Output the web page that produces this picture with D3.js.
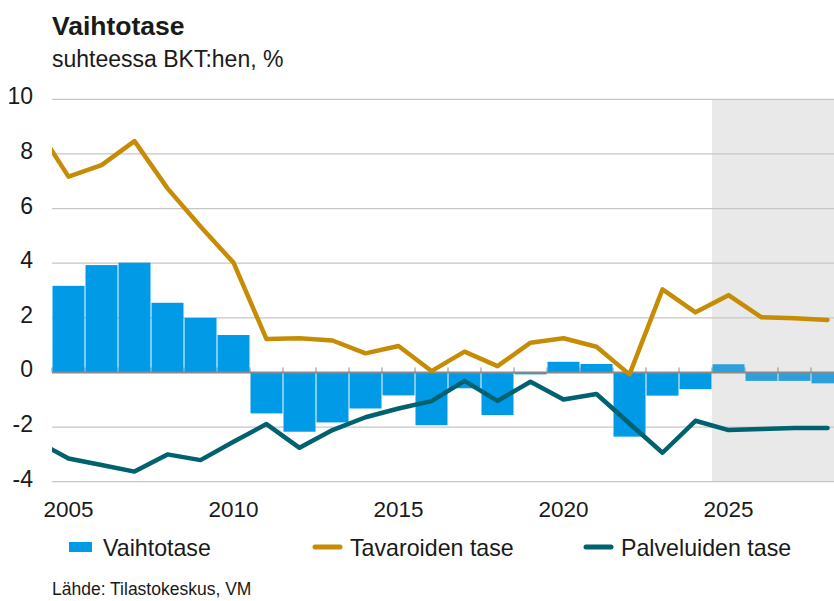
<!DOCTYPE html>
<html>
<head>
<meta charset="utf-8">
<script src="https://cdn.jsdelivr.net/npm/d3@7"></script>
<style>
  body { margin: 0; background: #fff; }
  svg text { font-family: "Liberation Sans", Arial, sans-serif; fill: #1a1a1a; }
</style>
</head>
<body>
<div id="chart"></div>
<script>
// bars: vaihtotase, 2005-2028 (2025 onwards forecast)
const barYears = d3.range(2005, 2029)
const vaihtotase = [3.17, 3.93, 4.02, 2.55, 2.0, 1.37, -1.5, -2.17, -1.83, -1.32, -0.84, -1.93,
  -0.58, -1.56, -0.07, 0.39, 0.31, -2.35, -0.85, -0.61, 0.3, -0.31, -0.31, -0.4]

// lines start one year earlier, clipped at the left edge
const lineYears = d3.range(2004, 2029)
const tavaroidenTase = [9.05, 7.17, 7.59, 8.47, 6.74, 5.34, 4.02, 1.22, 1.25, 1.17, 0.7, 0.97, 0.05,
  0.76, 0.23, 1.09, 1.25, 0.94, -0.07, 3.04, 2.2, 2.83, 2.02, 1.98, 1.92]
const palveluidenTase = [-2.49, -3.15, -3.39, -3.63, -3.0, -3.21, -2.54, -1.89, -2.76, -2.11, -1.64,
  -1.32, -1.05, -0.31, -1.04, -0.34, -0.99, -0.79, -1.87, -2.94, -1.77, -2.11, -2.07, -2.03, -2.03]

const yTicks = [10, 8, 6, 4, 2, 0, -2, -4]
const xLabels = [2005, 2010, 2015, 2020, 2025]
const forecastStart = 2025

const width = 834
const height = 601
const plot = { left: 52, right: 834, top: 99, bottom: 482 }

const svg = d3.select("#chart")
  .append("svg")
  .attr("width", width)
  .attr("height", height)

// one year = one band, centred on the year
const x = d3.scaleLinear().domain([2004.5, 2028.5]).range([plot.left, 844])
const y = d3.scaleLinear().domain([-4, 10]).range([481.7, 99.3])

svg.append("defs").append("clipPath")
  .attr("id", "plotclip")
  .append("rect")
  .attr("x", plot.left)
  .attr("y", 0)
  .attr("width", plot.right - plot.left)
  .attr("height", height)

// forecast shading
svg.append("rect")
  .attr("x", x(forecastStart - 0.5))
  .attr("y", y(10))
  .attr("width", plot.right - x(forecastStart - 0.5))
  .attr("height", y(-4) - y(10))
  .attr("fill", "#e9e9e9")

// grid
svg.append("g")
  .selectAll("line")
  .data(yTicks.filter(d => d !== 0))
  .join("line")
  .attr("x1", plot.left)
  .attr("x2", plot.right)
  .attr("y1", d => y(d))
  .attr("y2", d => y(d))
  .attr("stroke", "#c6c6c6")
  .attr("stroke-width", 1.2)

svg.append("g")
  .selectAll("text")
  .data(yTicks)
  .join("text")
  .attr("x", 33)
  .attr("y", d => y(d) + 5)
  .attr("text-anchor", "end")
  .attr("font-size", "23px")
  .text(d => d)

// small ticks on the zero line
svg.append("g")
  .selectAll("line")
  .data(d3.range(2005, 2029))
  .join("line")
  .attr("x1", d => x(d - 0.5))
  .attr("x2", d => x(d - 0.5))
  .attr("y1", y(0))
  .attr("y2", y(0) - 5)
  .attr("stroke", "#8a8a8a")
  .attr("stroke-width", 1)

// bars
const bars = barYears.map((yr, i) => ({ year: yr, value: vaihtotase[i] }))
svg.append("g")
  .attr("clip-path", "url(#plotclip)")
  .selectAll("rect")
  .data(bars)
  .join("rect")
  .attr("x", d => x(d.year - 0.5) + 0.5)
  .attr("width", d => x(d.year + 0.5) - x(d.year - 0.5) - 1)
  .attr("y", d => y(Math.max(0, d.value)))
  .attr("height", d => Math.abs(y(d.value) - y(0)))
  .attr("fill", d => d.year >= forecastStart ? "#2d9fda" : "#009ae6")

// zero line
svg.append("line")
  .attr("x1", plot.left)
  .attr("x2", plot.right)
  .attr("y1", y(0))
  .attr("y2", y(0))
  .attr("stroke", "#8a8a8a")
  .attr("stroke-width", 2)

const line = d3.line()
  .x(d => x(d.year))
  .y(d => y(d.value))

const series = [
  { values: tavaroidenTase, color: "#c68c05" },
  { values: palveluidenTase, color: "#00626f" }
]

svg.append("g")
  .attr("clip-path", "url(#plotclip)")
  .selectAll("path")
  .data(series)
  .join("path")
  .attr("d", s => line(lineYears.map((yr, i) => ({ year: yr, value: s.values[i] }))))
  .attr("fill", "none")
  .attr("stroke", s => s.color)
  .attr("stroke-width", 4.5)
  .attr("stroke-linejoin", "round")
  .attr("stroke-linecap", "round")

// year labels
svg.append("g")
  .selectAll("text")
  .data(xLabels)
  .join("text")
  .attr("x", d => x(d))
  .attr("y", 517)
  .attr("text-anchor", "middle")
  .attr("font-size", "22.5px")
  .text(d => d)

// title
svg.append("text")
  .attr("x", 52)
  .attr("y", 35)
  .attr("font-size", "26.5px")
  .attr("font-weight", "bold")
  .text("Vaihtotase")

svg.append("text")
  .attr("x", 52)
  .attr("y", 67)
  .attr("font-size", "23px")
  .text("suhteessa BKT:hen, %")

// legend
const legend = svg.append("g")
legend.append("rect")
  .attr("x", 69).attr("y", 542).attr("width", 23).attr("height", 10)
  .attr("fill", "#009ae6")
legend.append("text")
  .attr("x", 103).attr("y", 556).attr("font-size", "23.2px").text("Vaihtotase")

legend.append("line")
  .attr("x1", 315).attr("x2", 340).attr("y1", 547).attr("y2", 547)
  .attr("stroke", "#c68c05").attr("stroke-width", 5).attr("stroke-linecap", "round")
legend.append("text")
  .attr("x", 350).attr("y", 556).attr("font-size", "23.2px").text("Tavaroiden tase")

legend.append("line")
  .attr("x1", 586).attr("x2", 611).attr("y1", 547).attr("y2", 547)
  .attr("stroke", "#00626f").attr("stroke-width", 5).attr("stroke-linecap", "round")
legend.append("text")
  .attr("x", 621).attr("y", 556).attr("font-size", "23.2px").text("Palveluiden tase")

// source
svg.append("text")
  .attr("x", 52)
  .attr("y", 595)
  .attr("font-size", "17.5px")
  .text("Lähde: Tilastokeskus, VM")
</script>
</body>
</html>
